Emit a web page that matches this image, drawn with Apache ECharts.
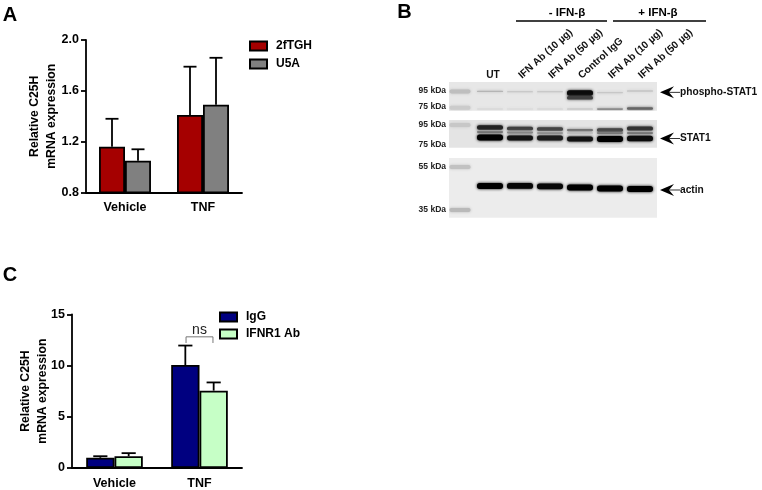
<!DOCTYPE html>
<html><head><meta charset="utf-8">
<style>html,body{margin:0;padding:0;background:#fff}#c{width:762px;height:490px;filter:blur(0.4px)}</style>
<script src="https://cdn.jsdelivr.net/npm/echarts@6/dist/echarts.min.js"></script>
</head><body><div id="c"></div>
<script>
const categories = ['Vehicle', 'TNF'];
// Panel A
const aNames = ['2fTGH', 'U5A'];
const a2fTGH = [1.16, 1.41];
const a2fTGHTop = [1.38, 1.79];
const aU5A = [1.05, 1.49];
const aU5ATop = [1.14, 1.86];
// Panel C
const cNames = ['IgG', 'IFNR1 Ab'];
const cIgG = [1.0, 10.05];
const cIgGTop = [1.15, 11.95];
const cIFNR = [1.15, 7.55];
const cIFNRTop = [1.45, 8.35];
const nsBracket = [[1, 12.8, 12.2]];
// Panel B: [lane, kDa, intensity]; lane -1 is the marker ladder
const laneLabels = ['UT', 'IFN Ab (10 µg)', 'IFN Ab (50 µg)', 'Control IgG', 'IFN Ab (10 µg)', 'IFN Ab (50 µg)'];
const phosphoBands = [
  [-1,94.5,.16],[-1,74,.1],
  [0,94.5,.2],[1,94,.14],[2,94,.14],[3,92.5,.95],[3,86.5,.72],[4,93,.12],[5,95,.18],
  [0,72.5,.06],[1,72.5,.05],[2,72.5,.07],[3,72.5,.15],[4,72.5,.38],[5,73,.55]
];
const stat1Bands = [
  [-1,95,.12],
  [0,92.5,.85],[1,91.5,.72],[2,91,.7],[3,90,.5],[4,90,.7],[5,91.5,.78],
  [0,88,.45],[1,87.5,.4],[2,87,.38],[3,87,.22],[4,87,.45],[5,87,.45],
  [0,82.5,1],[1,82,.92],[2,82,.88],[3,81,.92],[4,81,1],[5,81.5,.95]
];
const actinBands = [
  [-1,55,.14],[-1,35,.18],
  [0,46.2,1],[1,46.2,.98],[2,46,.98],[3,45.5,1],[4,45,1],[5,44.8,1]
];
const phosphoMarkers = [95, 75];
const stat1Markers = [95, 75];
const actinMarkers = [55, 35];
const blotTargets = [['phospho-STAT1', 93.3], ['STAT1', 81.5], ['actin', 44.3]];

const FONT = '"Liberation Sans", Arial, sans-serif';
const K = '#000';
const LW = 1.8;

function barSeries(name, values, color, g) {
  return {name, type:'bar', xAxisIndex:g, yAxisIndex:g, data:values, barWidth:'33.3%', barGap:0,
    itemStyle:{color, borderColor:K, borderWidth:LW}};
}
function errSeries(means, tops, side, g) {
  return {type:'custom', xAxisIndex:g, yAxisIndex:g, silent:true, z:1,
    data:means.map((m,i)=>[i,m,tops[i]]),
    renderItem(p,api){
      const w = api.size([1,0])[0]/6;
      const a = api.coord([api.value(0),api.value(1)]);
      const b = api.coord([api.value(0),api.value(2)]);
      const x = a[0]+side*w, cap = w*0.5;
      const st = {stroke:K,lineWidth:LW,fill:null};
      return {type:'group',children:[
        {type:'line',shape:{x1:x,y1:a[1],x2:x,y2:b[1]},style:st},
        {type:'line',shape:{x1:x-cap,y1:b[1],x2:x+cap,y2:b[1]},style:st}]};
    }};
}
function valAxis(g,min,max,interval,dec,gap){
  return {type:'value',gridIndex:g,min,max,interval,
    name:'Relative C25H\nmRNA expression',nameLocation:'middle',nameRotate:90,nameGap:gap,nameMoveOverlap:false,
    nameTextStyle:{fontFamily:FONT,fontWeight:'bold',fontSize:12.2,color:K,lineHeight:17},
    splitLine:{show:false},
    axisLine:{show:true,onZero:false,lineStyle:{color:K,width:LW}},
    axisTick:{show:true,length:5,lineStyle:{color:K,width:LW}},
    axisLabel:{fontFamily:FONT,fontWeight:'bold',fontSize:12.5,color:K,margin:7,formatter:v=>v.toFixed(dec)}};
}
function catAxis(g){
  return {type:'category',gridIndex:g,data:categories,
    axisLine:{show:true,lineStyle:{color:K,width:LW}},axisTick:{show:false},
    axisLabel:{fontFamily:FONT,fontWeight:'bold',fontSize:12.5,color:K,margin:9}};
}
function legend(names,left,top,gap){
  return {data:names,left,top,padding:0,orient:'vertical',icon:'rect',itemWidth:17,itemHeight:9,itemGap:gap,
    textStyle:{fontFamily:FONT,fontWeight:'bold',fontSize:12,color:K,padding:[0,0,0,4]}};
}
function bandSeries(bands,g){
  return {type:'custom',xAxisIndex:g,yAxisIndex:g,silent:true,clip:true,
    data:bands,
    renderItem(p,api){
      const c = api.coord([api.value(0),api.value(1)]);
      const i = api.value(2), lad = api.value(0)<0;
      const h = lad ? 4 : 1+5*i*i, w = lad ? 21 : 26;
      const v = Math.round(226*(1-i)), col = `rgb(${v},${v},${v})`;
      return {type:'rect',shape:{x:c[0]-w/2,y:c[1]-h/2,width:w,height:h,r:h/2.2},
        style:{fill:col,shadowBlur:3,shadowColor:col}};
    }};
}
function markerSeries(marks,g){
  return {type:'custom',xAxisIndex:g,yAxisIndex:g,silent:true,clip:false,
    data:marks.map(m=>[-1.4,m]),
    renderItem(p,api){
      const c = api.coord([api.value(0),api.value(1)]);
      return {type:'text',x:c[0]-2,y:c[1],style:{text:marks[p.dataIndex]+' kDa',textAlign:'right',textVerticalAlign:'middle',
        fontFamily:FONT,fontWeight:'bold',fontSize:8.5,fill:'#222'}};
    }};
}
function targetSeries(g){
  const t = blotTargets[g-2];
  return {type:'custom',xAxisIndex:g,yAxisIndex:g,silent:true,clip:false,
    data:[[5.567,t[1]]],
    renderItem(p,api){
      const c = api.coord([api.value(0),api.value(1)]);
      const x=c[0]+3,y=c[1];
      return {type:'group',children:[
        {type:'polygon',shape:{points:[[x,y],[x+14,y-6],[x+9,y],[x+14,y+6]]},style:{fill:K}},
        {type:'line',shape:{x1:x+9,y1:y,x2:x+20,y2:y},style:{stroke:'#333',lineWidth:1}},
        {type:'text',x:x+20,y:y,style:{text:t[0],textAlign:'left',textVerticalAlign:'middle',
          fontFamily:FONT,fontWeight:'bold',fontSize:10.2,fill:'#111'}}]};
    }};
}
function laneLabelSeries(){
  return {type:'custom',xAxisIndex:2,yAxisIndex:2,silent:true,clip:false,
    data:laneLabels.map((l,i)=>[i,106.25]),
    renderItem(p,api){
      const c = api.coord([api.value(0),api.value(1)]);
      const i = p.dataIndex, flat = i===0;
      return {type:'text',x:c[0]+(flat?3:0),y:c[1]-(flat?7:5),rotation:flat?0:Math.PI*42/180,
        style:{text:laneLabels[i],textAlign:flat?'center':'left',textVerticalAlign:'middle',
          fontFamily:FONT,fontWeight:'bold',fontSize:10.2,fill:'#111'}};
    }};
}
function blotGrid(top,height,bg){
  return {left:449,width:208,top,height,show:true,backgroundColor:bg,borderWidth:0,containLabel:false};
}
function hiddenX(g){return {type:'value',gridIndex:g,min:-1.367,max:5.567,show:false};}
function hiddenY(g,min,max){return {type:'value',gridIndex:g,min,max,show:false};}
function hText(text,x,y,size){
  return {type:'text',x,y,style:{text,fontFamily:FONT,fontWeight:'bold',fontSize:size,fill:K,textAlign:'center',textVerticalAlign:'middle'}};
}
function hLine(x1,x2,y){
  return {type:'line',shape:{x1,y1:y,x2,y2:y},style:{stroke:K,lineWidth:1.5}};
}

const chart = echarts.init(document.getElementById('c'));
chart.setOption({
  animation:false,
  backgroundColor:'#fff',
  grid:[
    {left:86,width:156,top:40,height:152.5},
    {left:72,width:170,top:314.3,height:154},
    blotGrid(82,28.7,'#e7e7e7'),
    blotGrid(120,27.7,'#e4e4e4'),
    blotGrid(158,59.7,'#ececec')
  ],
  xAxis:[catAxis(0),catAxis(1),hiddenX(2),hiddenX(3),hiddenX(4)],
  yAxis:[valAxis(0,0.8,2.0,0.4,1,26),valAxis(1,0,15,5,0,20.5),
    hiddenY(2,70.4,106.25),hiddenY(3,72.3,100),hiddenY(4,31.4,59.2)],
  legend:[legend(aNames,249,40,6),legend(cNames,219,311,5)],
  graphic:[
    hText('A',10,15,20),hText('B',404.5,12,20),hText('C',10,275,20),
    hText('- IFN-β',567,13,11.5),hText('+ IFN-β',658,13,11.5),
    hLine(516,607,21),hLine(613,706,21)
  ],
  series:[
    barSeries(aNames[0],a2fTGH,'#a50000',0),barSeries(aNames[1],aU5A,'#808080',0),
    errSeries(a2fTGH,a2fTGHTop,-1,0),errSeries(aU5A,aU5ATop,1,0),
    barSeries(cNames[0],cIgG,'#000080',1),barSeries(cNames[1],cIFNR,'#c6ffc6',1),
    errSeries(cIgG,cIgGTop,-1,1),errSeries(cIFNR,cIFNRTop,1,1),
    {type:'custom',xAxisIndex:1,yAxisIndex:1,silent:true,data:nsBracket,
      renderItem(p,api){
        const w=api.size([1,0])[0]/6*0.95;
        const t=api.coord([api.value(0),api.value(1)]),b=api.coord([api.value(0),api.value(2)]);
        const cx=t[0],l=cx-w,r=cx+w;
        return {type:'group',children:[
          {type:'polyline',shape:{points:[[l,b[1]],[l,t[1]],[r,t[1]],[r,b[1]]]},style:{stroke:'#777',lineWidth:1,fill:null}},
          {type:'text',x:cx,y:t[1]-7,style:{text:'ns',textAlign:'center',textVerticalAlign:'middle',fontFamily:FONT,fontSize:14,fill:'#222'}}]};
      }},
    bandSeries(phosphoBands,2),bandSeries(stat1Bands,3),bandSeries(actinBands,4),
    markerSeries(phosphoMarkers,2),markerSeries(stat1Markers,3),markerSeries(actinMarkers,4),
    targetSeries(2),targetSeries(3),targetSeries(4),
    laneLabelSeries()
  ]
});
</script></body></html>
